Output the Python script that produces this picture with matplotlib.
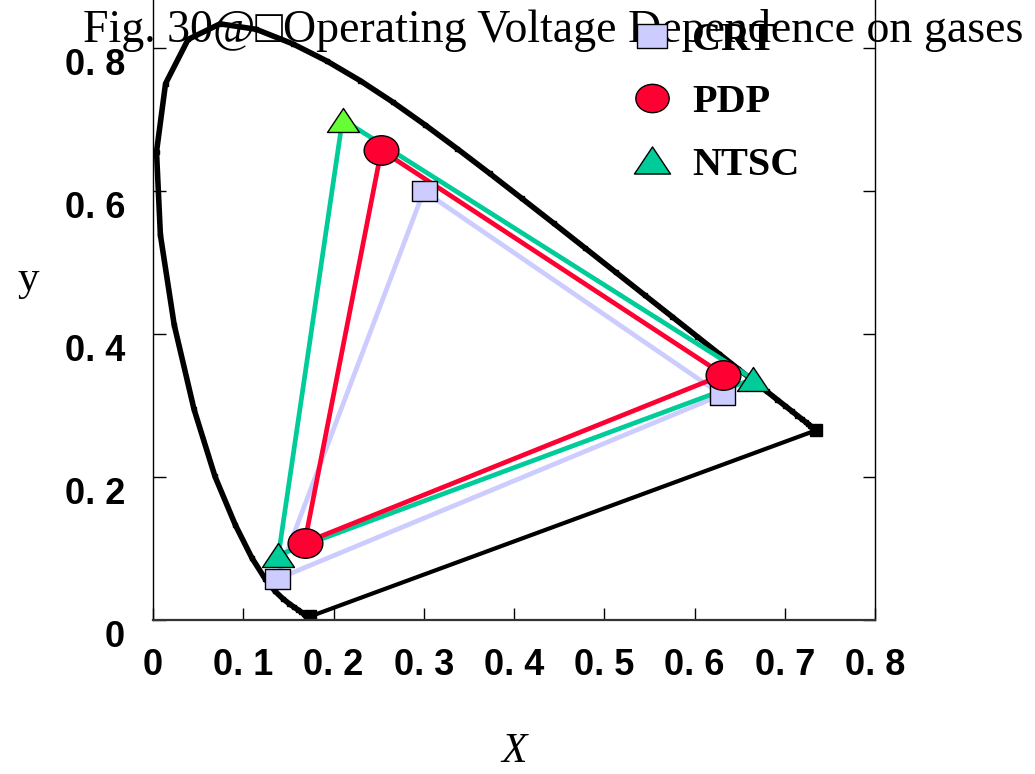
import matplotlib
matplotlib.use('Agg')
import matplotlib.pyplot as plt
from matplotlib.lines import Line2D
from matplotlib.path import Path
from matplotlib.transforms import Affine2D

# CIE 1931 spectral locus, 380-700 nm every 5 nm
locus_x = [0.1741, 0.1740, 0.1738, 0.1736, 0.1733, 0.1730, 0.1726, 0.1721, 0.1714,
           0.1703, 0.1689, 0.1669, 0.1644, 0.1611, 0.1566, 0.1510, 0.1440, 0.1355,
           0.1241, 0.1096, 0.0913, 0.0687, 0.0454, 0.0235, 0.0082, 0.0039, 0.0139,
           0.0389, 0.0743, 0.1142, 0.1547, 0.1929, 0.2296, 0.2658, 0.3016, 0.3373,
           0.3731, 0.4087, 0.4441, 0.4788, 0.5125, 0.5448, 0.5752, 0.6029, 0.6270,
           0.6482, 0.6658, 0.6801, 0.6915, 0.7006, 0.7079, 0.7140, 0.7190, 0.7230,
           0.7260, 0.7283, 0.7300, 0.7311, 0.7320, 0.7327, 0.7334, 0.7340, 0.7344,
           0.7346, 0.7347]
locus_y = [0.0050, 0.0050, 0.0049, 0.0049, 0.0048, 0.0048, 0.0048, 0.0048, 0.0051,
           0.0058, 0.0069, 0.0086, 0.0109, 0.0138, 0.0177, 0.0227, 0.0297, 0.0399,
           0.0578, 0.0868, 0.1327, 0.2007, 0.2950, 0.4127, 0.5384, 0.6548, 0.7502,
           0.8120, 0.8338, 0.8262, 0.8059, 0.7816, 0.7543, 0.7243, 0.6923, 0.6589,
           0.6245, 0.5896, 0.5547, 0.5202, 0.4866, 0.4544, 0.4242, 0.3965, 0.3725,
           0.3514, 0.3340, 0.3197, 0.3083, 0.2993, 0.2920, 0.2859, 0.2809, 0.2770,
           0.2740, 0.2717, 0.2700, 0.2689, 0.2680, 0.2673, 0.2666, 0.2660, 0.2656,
           0.2654, 0.2653]

# primaries, order R, G, B
crt_x = [0.630, 0.300, 0.137]
crt_y = [0.315, 0.600, 0.057]
pdp_x = [0.632, 0.253, 0.168]
pdp_y = [0.343, 0.657, 0.108]
ntsc_x = [0.665, 0.210, 0.139]
ntsc_y = [0.337, 0.700, 0.091]

names = ['CRT', 'PDP', 'NTSC']
xticks = [0, 0.1, 0.2, 0.3, 0.4, 0.5, 0.6, 0.7, 0.8]
yticks = [0, 0.2, 0.4, 0.6, 0.8]

lavender = '#CCCCFF'
red = '#FF0033'
teal = '#00CC99'
lime = '#66FF33'

# flattened marker shapes
rect = Path([(-1, -0.8), (1, -0.8), (1, 0.8), (-1, 0.8), (-1, -0.8)],
            [Path.MOVETO, Path.LINETO, Path.LINETO, Path.LINETO, Path.CLOSEPOLY])
ellipse = Affine2D().scale(1, 0.85).transform_path(Path.unit_circle())
tri = Path([(0, 0.75), (-1, -0.75), (1, -0.75), (0, 0.75)],
           [Path.MOVETO, Path.LINETO, Path.LINETO, Path.CLOSEPOLY])

def closed(v):
    return list(v) + [v[0]]

fig = plt.figure(figsize=(10.35, 7.74), dpi=100)
ax = fig.add_axes([153 / 1035, 1 - 620 / 774, 722 / 1035, 620 / 774])

# spectral locus and line of purples
ax.plot(locus_x, locus_y, color='black', lw=4, marker='s', ms=2.5, zorder=2)
ax.plot([locus_x[-1], locus_x[0]], [locus_y[-1], locus_y[0]], color='black', lw=3,
        marker='s', ms=9, zorder=2)

# gamut triangles
lw = 3.4
ax.plot(closed(crt_x), closed(crt_y), color=lavender, lw=lw, zorder=3)
ax.plot(closed(ntsc_x), closed(ntsc_y), color=teal, lw=lw, zorder=4)
ax.plot(closed(pdp_x), closed(pdp_y), color=red, lw=lw, zorder=5)

ax.plot(crt_x, crt_y, ls='none', marker=rect, ms=18, mfc=lavender, mec='black', mew=1, zorder=6)
ntsc_fill = [teal, lime, teal]
for x, y, c in zip(ntsc_x, ntsc_y, ntsc_fill):
    ax.plot(x, y, ls='none', marker=tri, ms=23, mfc=c, mec='black', mew=1, zorder=7)
ax.plot(pdp_x, pdp_y, ls='none', marker=ellipse, ms=25, mfc=red, mec='black', mew=1, zorder=8)

ax.set_xlim(0, 0.8)
ax.set_ylim(0, 620 / 715)
ax.spines['top'].set_visible(False)
ax.spines['bottom'].set_linewidth(1.6)
ax.spines['bottom'].set_color('#333333')
for s in ('left', 'right'):
    ax.spines[s].set_linewidth(1)

tick_font = dict(family='Liberation Sans', weight='bold', size=26)
def fmt(v):
    return '0' if v == 0 else '0. %d' % round(v * 10)
ax.set_xticks(xticks)
ax.set_xticklabels([fmt(v) for v in xticks], **tick_font)
ax.set_yticks(yticks)
ax.set_yticklabels([fmt(v) for v in yticks], va='top', **tick_font)
ax.tick_params(axis='x', direction='in', length=9, width=1, pad=20)
ax.tick_params(axis='y', direction='in', length=9, width=1, pad=20, right=True)

ax.set_xlabel('X', family='Liberation Serif', style='italic', size=30, va='top')
ax.xaxis.set_label_coords(0.5, -0.182)
ax.set_ylabel('y', family='Liberation Serif', size=31, rotation=0, va='center', ha='center')
ax.yaxis.set_label_coords(-0.173, 0.548)

fig.text(83 / 1035, 1 - 42 / 774, 'Fig. 30@\u25a1Operating Voltage Dependence on gases',
         family=['Liberation Serif', 'DejaVu Sans'], size=33, ha='left', va='baseline')

handles = [
    Line2D([], [], ls='none', marker=rect, ms=21, mfc=lavender, mec='black', mew=1),
    Line2D([], [], ls='none', marker=ellipse, ms=24, mfc=red, mec='black', mew=1),
    Line2D([], [], ls='none', marker=tri, ms=26, mfc=teal, mec='black', mew=1),
]
fig.legend(handles, names, loc='upper left', bbox_to_anchor=(632 / 1035, 1 - 22 / 774),
           frameon=False, prop=dict(family='Liberation Serif', weight='bold', size=29),
           handlelength=1.0, handletextpad=0.5, labelspacing=0.62, borderpad=0,
           borderaxespad=0)

fig.savefig('out.png', dpi=100)
